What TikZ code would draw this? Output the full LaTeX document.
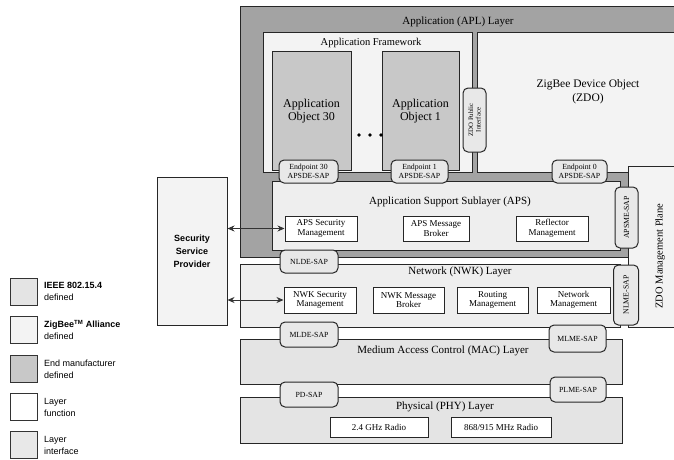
\documentclass[tikz,border=0pt]{standalone}
\usepackage{fontspec}
\setmainfont{Liberation Serif}
\setsansfont{Liberation Sans}
\usetikzlibrary{arrows.meta}
\definecolor{aplgray}{HTML}{A3A3A3}
\definecolor{aogray}{HTML}{C8C8C8}
\definecolor{zigfill}{HTML}{EEEEEE}
\definecolor{ieeefill}{HTML}{E4E4E4}
\definecolor{zdofill}{HTML}{F3F3F3}
\definecolor{sapfill}{HTML}{E8E8E8}
\tikzset{
  box/.style={draw=black!85, line width=1pt, inner sep=0pt, align=center},
  layerbox/.style={box, fill=zigfill},
  ieeebox/.style={box, fill=ieeefill},
  aobox/.style={box, fill=aogray, font=\fontsize{12}{13}\selectfont},
  subbox/.style={box, fill=white, font=\fontsize{9}{9.5}\selectfont},
  sapbox/.style={box, fill=sapfill, rounded corners=5pt, font=\fontsize{7.8}{8.5}\selectfont},
  lbl/.style={inner sep=0pt, font=\fontsize{11}{12}\selectfont, align=center},
  legsq/.style={draw=black!80, line width=0.8pt, minimum width=27pt, minimum height=27pt, inner sep=0pt},
  legtxt/.style={anchor=west, inner sep=0pt, align=left, font=\sffamily\fontsize{9}{12}\selectfont},
  dbl/.style={{Stealth[length=7pt,width=6pt]}-{Stealth[length=7pt,width=6pt]}, draw=black!80, line width=0.8pt}
}
\begin{document}
\begin{tikzpicture}[x=1pt,y=-1pt]
\useasboundingbox (0,0) rectangle (674,460);
\clip (0,0) rectangle (674,460);
\fill[white] (0,0) rectangle (674,460);

% Application layer
\node[box, fill=aplgray, minimum width=450pt, minimum height=250pt] (apl) at (465,132) {};
\node[lbl] (apllbl) at (458,22) {Application (APL) Layer};

% Application framework
\node[box, fill=zdofill, minimum width=209pt, minimum height=139pt] (af) at (367.5,102.5) {};
\node[lbl, font=\fontsize{10.5}{11}\selectfont] (aflbl) at (371,43) {Application Framework};
\node[aobox, minimum width=79pt, minimum height=118pt] (ao30) at (311.5,111) {Application\\Object 30};
\node[aobox, minimum width=77pt, minimum height=118pt] (ao1) at (420.5,111) {Application\\Object 1};
\fill (359,135) circle (1.9pt) (370,135) circle (1.9pt) (381,135) circle (1.9pt);

% ZDO
\node[box, fill=zdofill, minimum width=223pt, minimum height=139pt] (zdo) at (588.5,102.5) {};
\node[lbl, font=\fontsize{11.5}{14}\selectfont] (zdolbl) at (588,92) {ZigBee Device Object\\(ZDO)};
\node[sapbox, rotate=90, minimum width=64pt, minimum height=23pt, font=\fontsize{6.8}{7.5}\selectfont] (zdopi) at (474.5,120) {ZDO Public\\Interface};

% APS
\node[layerbox, minimum width=348pt, minimum height=69pt] (aps) at (446,215.5) {};
\node[lbl] (apslbl) at (450,202) {Application Support Sublayer (APS)};
\node[subbox, minimum width=72pt, minimum height=25pt] (apssec) at (321,228.5) {APS Security\\Management};
\node[subbox, minimum width=66pt, minimum height=25pt] (apsmsg) at (436,228.5) {APS Message\\Broker};
\node[subbox, minimum width=72pt, minimum height=25pt] (refl) at (552,228.5) {Reflector\\Management};

% Endpoints
\node[sapbox, minimum width=59pt, minimum height=23pt] (ep30) at (308.5,171.5) {Endpoint 30\\APSDE-SAP};
\node[sapbox, minimum width=57pt, minimum height=23pt] (ep1) at (419.5,171.5) {Endpoint 1\\APSDE-SAP};
\node[sapbox, minimum width=55pt, minimum height=23pt] (ep0) at (579.5,171.5) {Endpoint 0\\APSDE-SAP};

% ZDO management plane
\node[box, fill=zdofill, minimum width=72pt, minimum height=161pt] (plane) at (664,246.5) {};
\node[lbl, rotate=90, font=\fontsize{10.5}{11}\selectfont] (planelbl) at (660,256) {ZDO Management Plane};
\node[sapbox, rotate=90, minimum width=61pt, minimum height=23pt] (apsme) at (626.5,217.5) {APSME-SAP};

% NWK
\node[layerbox, minimum width=380pt, minimum height=63pt] (nwk) at (430,295.5) {};
\node[lbl] (nwklbl) at (460,271.5) {Network (NWK) Layer};
\node[subbox, minimum width=72pt, minimum height=26pt] (nwksec) at (320,300) {NWK Security\\Management};
\node[subbox, minimum width=71pt, minimum height=26pt] (nwkmsg) at (408.5,300) {NWK Message\\Broker};
\node[subbox, minimum width=71pt, minimum height=26pt] (routing) at (492.5,300) {Routing\\Management};
\node[subbox, minimum width=73pt, minimum height=26pt] (netmgmt) at (573.5,300) {Network\\Management};
\node[sapbox, minimum width=58pt, minimum height=23pt] (nlde) at (309,261.5) {NLDE-SAP};
\node[sapbox, rotate=90, minimum width=60pt, minimum height=25pt] (nlme) at (626,295) {NLME-SAP};

% MAC
\node[ieeebox, minimum width=382pt, minimum height=45pt] (mac) at (431,361.5) {};
\node[lbl] (maclbl) at (443,351) {Medium Access Control (MAC) Layer};
\node[sapbox, minimum width=58pt, minimum height=25pt] (mlde) at (309,334.5) {MLDE-SAP};
\node[sapbox, minimum width=57pt, minimum height=27pt] (mlme) at (577.5,338.5) {MLME-SAP};

% PHY
\node[ieeebox, minimum width=382pt, minimum height=46pt] (phy) at (431,420) {};
\node[lbl] (phylbl) at (445,406.5) {Physical (PHY) Layer};
\node[subbox, minimum width=98pt, minimum height=20pt] (r24) at (379,427) {2.4 GHz Radio};
\node[subbox, minimum width=100pt, minimum height=20pt] (r868) at (501,427) {868/915 MHz Radio};
\node[sapbox, minimum width=58pt, minimum height=25pt] (pd) at (309,394.5) {PD-SAP};
\node[sapbox, minimum width=56pt, minimum height=25pt] (plme) at (578,389.5) {PLME-SAP};

% Security service provider
\node[box, fill=zdofill, minimum width=70pt, minimum height=148pt, font=\sffamily\bfseries\fontsize{9}{13}\selectfont] (ssp) at (192,251) {Security\\Service\\Provider};
\draw[dbl] (ssp.east |- apssec.west) -- (apssec.west);
\draw[dbl] (ssp.east |- nwksec.west) -- (nwksec.west);

% Legend
\node[legsq, fill=ieeefill] (l1) at (23.5,291.5) {};
\node[legtxt] (l1t) at (44,291.5) {\textbf{IEEE 802.15.4}\\defined};
\node[legsq, fill=zdofill] (l2) at (23.5,330) {};
\node[legtxt] (l2t) at (44,330) {\textbf{ZigBee\textsuperscript{TM} Alliance}\\defined};
\node[legsq, fill=aogray] (l3) at (23.5,369) {};
\node[legtxt] (l3t) at (44,369) {End manufacturer\\defined};
\node[legsq, fill=white] (l4) at (23.5,407) {};
\node[legtxt] (l4t) at (44,407) {Layer\\function};
\node[legsq, fill=sapfill] (l5) at (23.5,445) {};
\node[legtxt] (l5t) at (44,445) {Layer\\interface};
\end{tikzpicture}
\end{document}
